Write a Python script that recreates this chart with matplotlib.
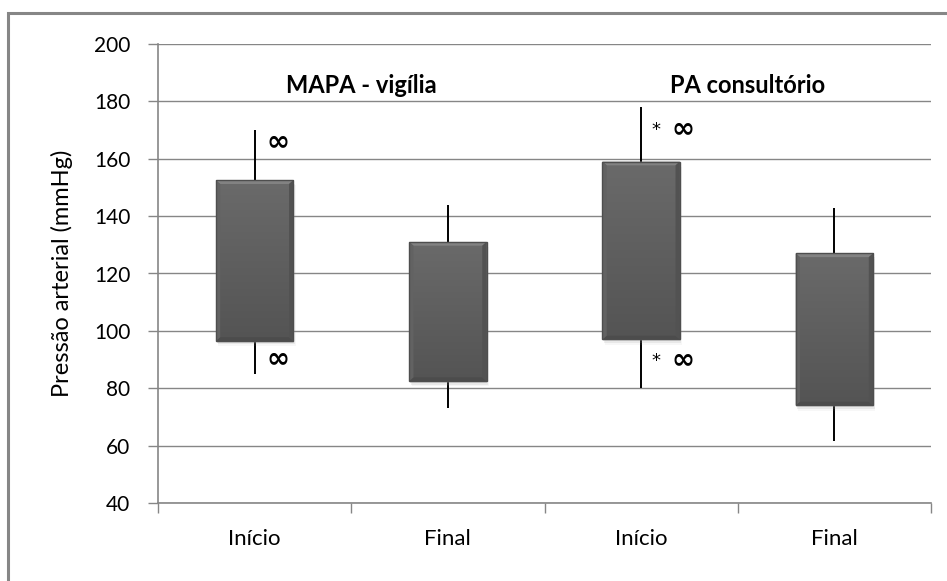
import numpy as np
import matplotlib
matplotlib.use('Agg')
from matplotlib import pyplot as plt
from matplotlib.patches import Rectangle, Polygon
from matplotlib.colors import LinearSegmentedColormap

# data
categories = ['Início', 'Final', 'Início', 'Final']
box_low = [96.5, 82.5, 97, 74]
box_high = [152.5, 131, 159, 127]
whisker_low = [85, 73, 80, 61.5]
whisker_high = [170, 144, 178, 143]
group_titles = ['MAPA - vigília', 'PA consultório']
# significance marks: (has asterisk, level)
marks_top = [(False, 166), None, (True, 170.5), None]
marks_bottom = [(False, 90.5), None, (True, 90), None]

plt.rcParams['font.family'] = ['Lato', 'DejaVu Sans']

bar_cmap = LinearSegmentedColormap.from_list('bar', ['#545454', '#6a6a6a'])


def draw_mark(ax, i, mark):
    if mark is None:
        return
    star, y = mark
    if star:
        ax.text(i + 0.078, y - 0.6, '*', fontsize=13, ha='center', va='center',
                family=['DejaVu Sans'], zorder=6)
        ax.text(i + 0.215, y, '∞', fontsize=20, fontweight='bold', ha='center',
                va='center', family=['DejaVu Sans'], zorder=6)
    else:
        ax.text(i + 0.12, y, '∞', fontsize=20, fontweight='bold', ha='center',
                va='center', family=['DejaVu Sans'], zorder=6)


def main():
    fig = plt.figure(figsize=(9.47, 5.81), dpi=100)
    fig.patches.append(Rectangle((8 / 947, -0.1), 1.2, 1 - 13 / 581 + 0.1,
                                 transform=fig.transFigure, fill=False,
                                 edgecolor='#868686', linewidth=2.2))
    ax = fig.add_axes([158 / 947, 1 - 503 / 581, (931 - 158) / 947, (503 - 44) / 581])

    x = np.arange(len(categories))
    w = 0.4
    grad = np.linspace(0, 1, 100).reshape(-1, 1)

    for i in x:
        ax.vlines(i, whisker_low[i], whisker_high[i], color='black', linewidth=1.4, zorder=2)
        lo, hi = box_low[i], box_high[i]
        # soft shadow
        for k, a in enumerate([0.25, 0.15, 0.08]):
            ax.add_patch(Rectangle((i - w / 2 + 0.004 * (k + 1), lo - 0.6 * (k + 1)), w, hi - lo,
                                   facecolor='#9a9a9a', edgecolor='none', alpha=a, zorder=3))
        rect = Rectangle((i - w / 2, lo), w, hi - lo, facecolor='none',
                         edgecolor='#4e4e4e', linewidth=1.0, zorder=5)
        ax.add_patch(rect)
        im = ax.imshow(grad, extent=(i - w / 2, i + w / 2, lo, hi), origin='lower',
                       cmap=bar_cmap, aspect='auto', zorder=4, interpolation='bilinear')
        im.set_clip_path(rect)
        # bevel edges
        bx, by = 0.022, 1.3
        ax.add_patch(Polygon([(i - w / 2, hi), (i + w / 2, hi), (i + w / 2 - bx, hi - by),
                              (i - w / 2 + bx, hi - by)], closed=True,
                             facecolor='#828282', edgecolor='none', zorder=4.5))
        ax.add_patch(Polygon([(i - w / 2, lo), (i + w / 2, lo), (i + w / 2 - bx, lo + by),
                              (i - w / 2 + bx, lo + by)], closed=True,
                             facecolor='#4c4c4c', edgecolor='none', zorder=4.5))
        ax.add_patch(Polygon([(i + w / 2, lo), (i + w / 2, hi), (i + w / 2 - bx, hi - by),
                              (i + w / 2 - bx, lo + by)], closed=True,
                             facecolor='#525252', edgecolor='none', zorder=4.5))
        ax.add_patch(Polygon([(i - w / 2, lo), (i - w / 2, hi), (i - w / 2 + bx, hi - by),
                              (i - w / 2 + bx, lo + by)], closed=True,
                             facecolor='#626262', edgecolor='none', zorder=4.5))
        draw_mark(ax, i, marks_top[i])
        draw_mark(ax, i, marks_bottom[i])

    ax.set_xlim(-0.5, len(categories) - 0.5)
    ax.set_ylim(40, 200)
    ax.set_yticks(np.arange(40, 201, 20))
    ax.yaxis.grid(True, color='#868686', linewidth=1.0)
    ax.set_axisbelow(True)

    for g, title in enumerate(group_titles):
        ax.text(2 * g + 0.55, 185.5, title, fontsize=17, fontweight='bold',
                ha='center', va='center')

    ax.set_xticks(x)
    ax.set_xticklabels(categories, fontsize=16)
    ax.set_xticks(np.arange(-0.5, len(categories)), minor=True)
    ax.tick_params(axis='x', which='major', length=0, pad=19)
    ax.tick_params(axis='x', which='minor', length=7, color='#868686', width=1.0)
    ax.tick_params(axis='y', length=7, color='#868686', width=1.0, labelsize=15, pad=13)
    for s in ['top', 'right']:
        ax.spines[s].set_visible(False)
    for s in ['left', 'bottom']:
        ax.spines[s].set_color('#868686')
        ax.spines[s].set_linewidth(1.2)
    ax.set_ylabel('Pressão arterial (mmHg)', fontsize=17, labelpad=15)

    fig.savefig('out.png', dpi=100)


if __name__ == '__main__':
    main()
